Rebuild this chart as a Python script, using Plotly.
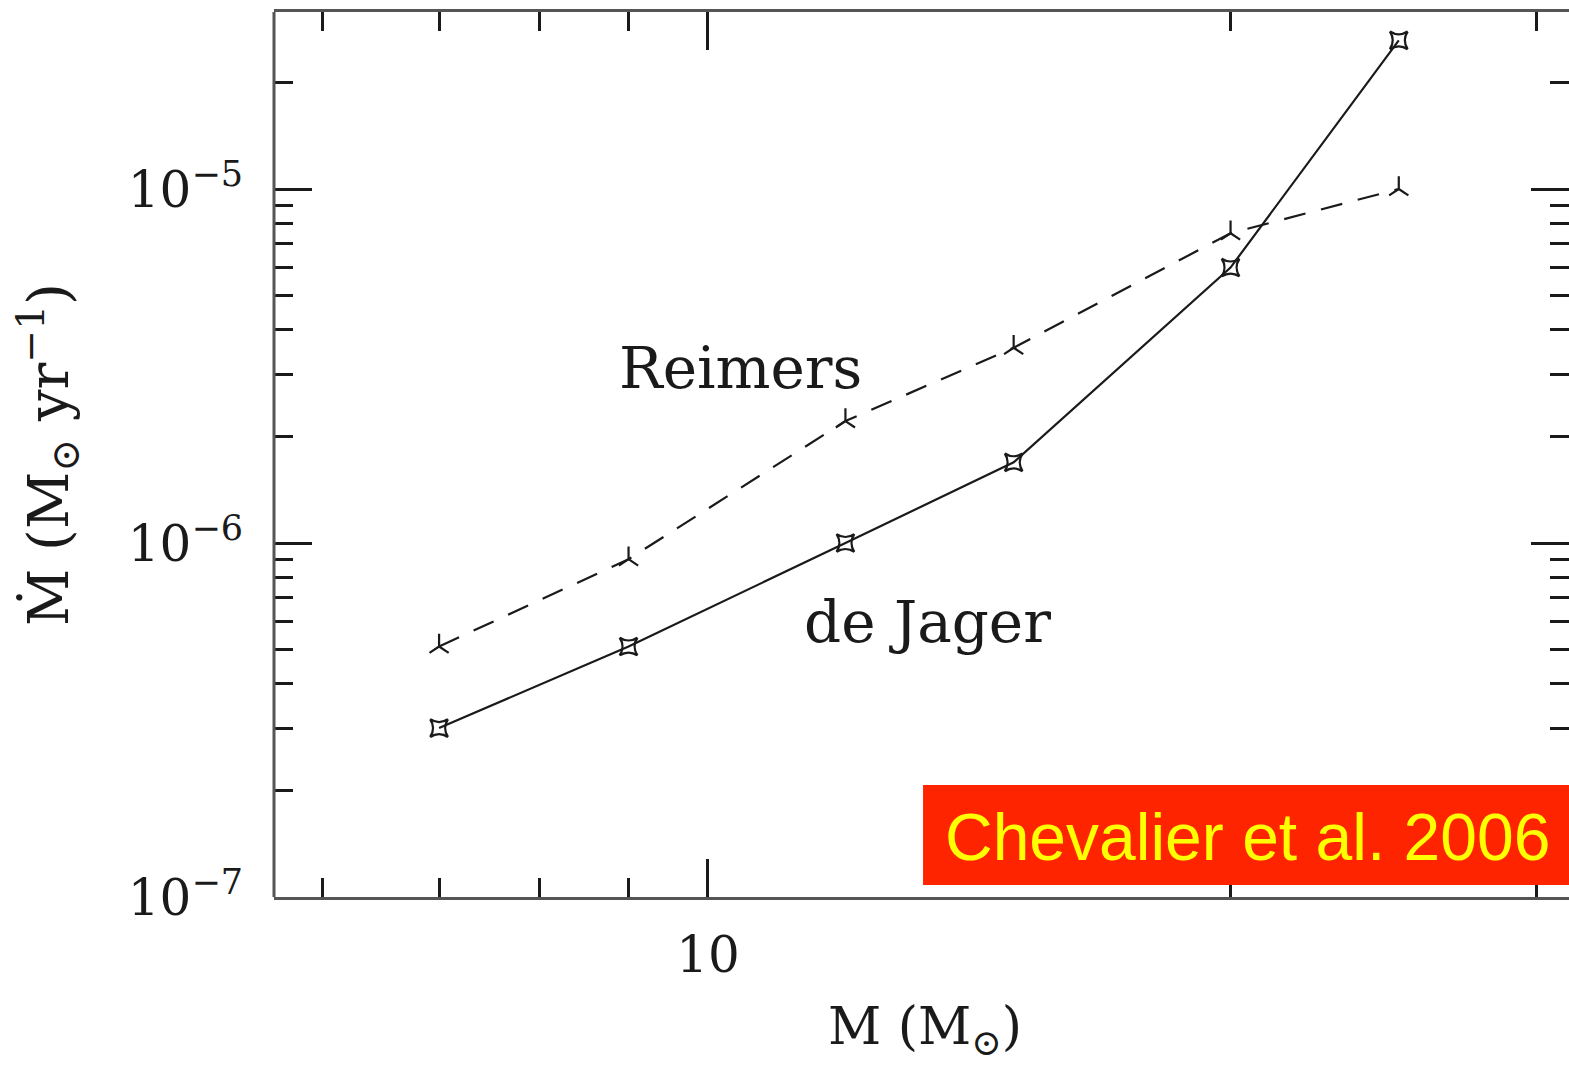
import plotly.graph_objects as go

# Initial stellar mass (solar masses)
mass = [7, 9, 12, 15, 20, 25]

# Mass-loss rates (solar masses per year)
mdot_de_jager = [3.0e-7, 5.1e-7, 1.0e-6, 1.69e-6, 6.0e-6, 2.63e-5]
mdot_reimers = [5.1e-7, 9.0e-7, 2.21e-6, 3.56e-6, 7.5e-6, 1.0e-5]

# Axis ticks
x_major = [10]
x_major_text = ["10"]
x_minor = [6, 7, 8, 9, 20, 30]
y_major = [1e-7, 1e-6, 1e-5]
y_major_text = ["10<sup>−7</sup>", "10<sup>−6</sup>", "10<sup>−5</sup>"]
y_minor = [m * 10.0 ** e for e in (-7, -6, -5) for m in range(2, 10)
           if m * 10.0 ** e <= 3e-5]

SERIF = "DejaVu Serif"
INK = "#1a1a1a"

fig = go.Figure()

fig.add_trace(go.Scatter(
    x=mass, y=mdot_reimers, mode="lines+markers", name="Reimers",
    line=dict(color=INK, width=2.2, dash="22px,16px"),
    marker=dict(symbol="y-up", size=16, line=dict(color=INK, width=2.2)),
))
fig.add_trace(go.Scatter(
    x=mass, y=mdot_de_jager, mode="lines+markers", name="de Jager",
    line=dict(color=INK, width=2.2),
    marker=dict(symbol="star-square-open", size=16, color=INK,
                line=dict(color=INK, width=2.4)),
))

fig.update_xaxes(
    type="log", range=[0.75, 1.496],
    tickmode="array", tickvals=x_major, ticktext=x_major_text,
    ticks="inside", ticklen=38, tickwidth=2.5, tickcolor=INK,
    minor=dict(tickmode="array", tickvals=x_minor, ticks="inside",
               ticklen=19, tickwidth=2.5, tickcolor=INK),
    showline=True, linecolor="#555", linewidth=3, mirror="ticks",
    showgrid=False, zeroline=False,
    tickfont=dict(family=SERIF, size=50, color=INK),
    ticklabelstandoff=12,
)
fig.update_yaxes(
    type="log", range=[-7, -4.5],
    tickmode="array", tickvals=y_major, ticktext=y_major_text,
    ticks="inside", ticklen=38, tickwidth=2.5, tickcolor=INK,
    minor=dict(tickmode="array", tickvals=y_minor, ticks="inside",
               ticklen=19, tickwidth=2.5, tickcolor=INK),
    showline=False, mirror="ticks",
    showgrid=False, zeroline=False,
    tickfont=dict(family=SERIF, size=50, color=INK),
    ticklabelstandoff=30,
)

# Left frame edge
fig.add_shape(type="line", xref="paper", yref="paper", x0=0, x1=0, y0=0, y1=1,
              line=dict(color="#555", width=3))

# Citation banner
fig.add_shape(type="rect", xref="paper", yref="paper",
              x0=0.5012, x1=1.01, y0=0.0136, y1=0.1266,
              fillcolor="#ff2400", line=dict(width=0), layer="above")

annotations = [
    dict(text="Reimers", x=0.3606, y=0.5977, font=dict(family=SERIF, size=58, color=INK)),
    dict(text="de Jager", x=0.505, y=0.3107, font=dict(family=SERIF, size=58, color=INK)),
    dict(text="Chevalier et al. 2006", x=0.7514, y=0.0678,
         font=dict(family="Liberation Sans", size=66, color="#ffff00")),
    dict(text="M (M<sub>⊙</sub>)", x=0.5027, y=-0.150,
         font=dict(family=SERIF, size=52, color=INK)),
    dict(text="Ṁ (M<sub>⊙</sub> yr<sup>−1</sup>)", x=-0.1745, y=0.4994, textangle=-90,
         font=dict(family=SERIF, size=56, color=INK)),
]
for a in annotations:
    fig.add_annotation(xref="paper", yref="paper", showarrow=False,
                       xanchor="center", yanchor="middle", **a)

fig.update_layout(
    width=1569, height=1069,
    margin=dict(l=274, r=0, t=12, b=172),
    paper_bgcolor="white", plot_bgcolor="white",
    showlegend=False,
)

fig.write_html("out.html")
